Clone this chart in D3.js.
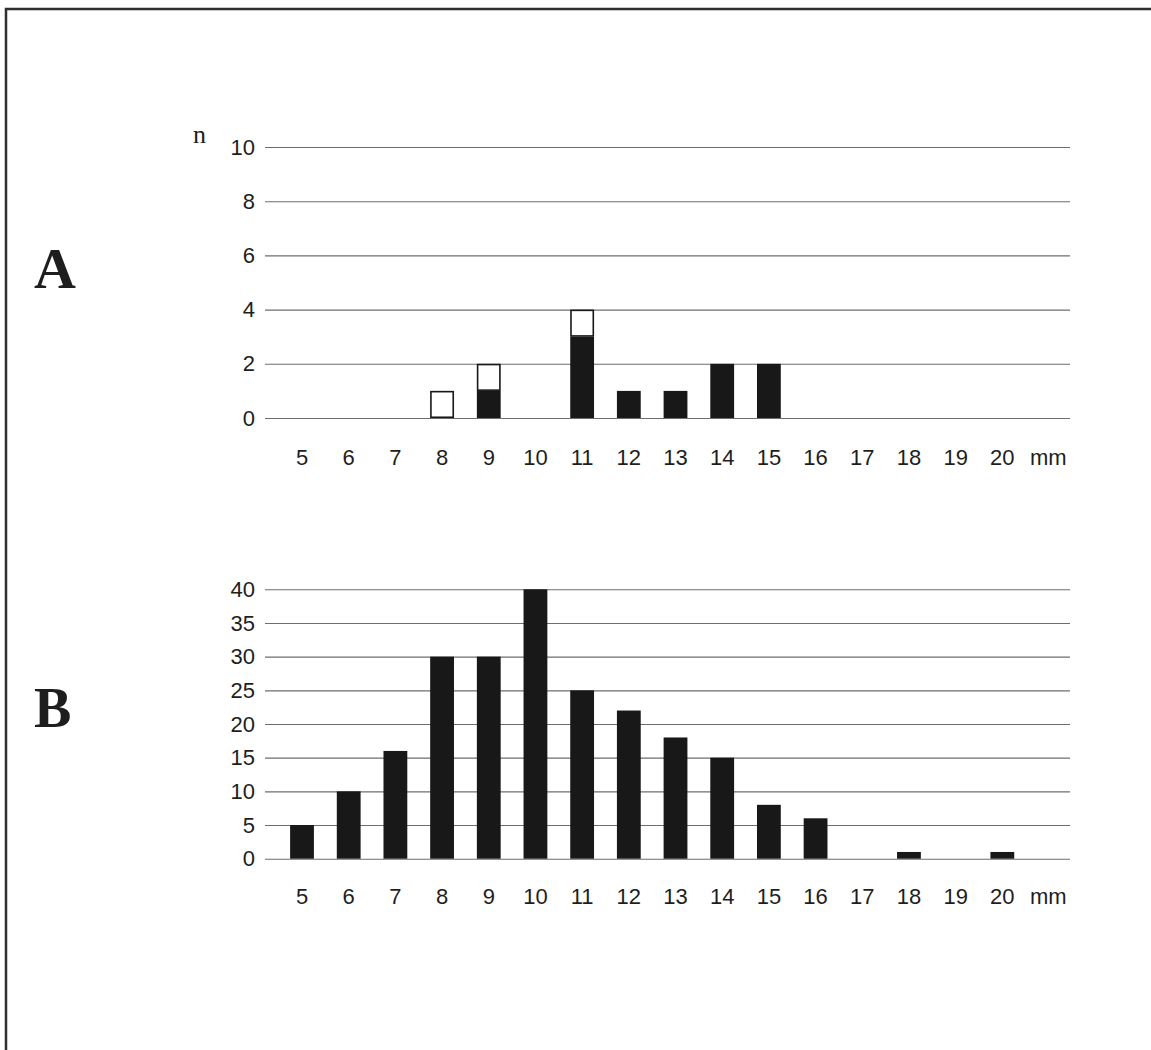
<!DOCTYPE html>
<html>
<head>
<meta charset="utf-8">
<script src="https://cdn.jsdelivr.net/npm/d3@7"></script>
<style>
  html, body { margin: 0; padding: 0; background: #ffffff; }
  svg { display: block; }
</style>
</head>
<body>
<svg id="chart" width="1151" height="1050"></svg>
<script>
// ---- data ----
const categories = ["5","6","7","8","9","10","11","12","13","14","15","16","17","18","19","20"];
const aFilled = [0,0,0,0,1,0,3,1,1,2,2,0,0,0,0,0];
const aOpen   = [0,0,0,1,1,0,1,0,0,0,0,0,0,0,0,0];
const bValues = [5,10,16,30,30,40,25,22,18,15,8,6,0,1,0,1];
const aTicks = [0,2,4,6,8,10];
const bTicks = [0,5,10,15,20,25,30,35,40];
const unitLabel = "mm";
const aYLabel = "n";
const panelLabels = ["A","B"];

// ---- layout ----
const svg = d3.select("#chart");
const gridLeft = 265, gridRight = 1070;
const sansFont = "'Liberation Sans', Arial, Helvetica, sans-serif";
const serifFont = "'Liberation Serif', 'Times New Roman', serif";
const barColor = "#181818";
const gridColor = "#6e6e6e";

// frame
svg.append("path")
  .attr("d", "M6,1050 V9 H1151")
  .attr("fill", "none").attr("stroke", "#2f2f2f").attr("stroke-width", 2.5);

const x = d3.scaleBand()
  .domain(categories)
  .range([278.67, 1025.67])
  .paddingInner(0.49)
  .paddingOuter(0.245);

function drawPanel(yScale, ticks, xLabelOffset) {
  const g = svg.append("g");
  // gridlines + y labels
  const yAxis = d3.axisLeft(yScale)
    .tickValues(ticks)
    .tickSize(-(gridRight - gridLeft))
    .tickPadding(10);
  const ya = g.append("g").attr("transform", `translate(${gridLeft},0)`).call(yAxis);
  ya.select(".domain").remove();
  ya.selectAll(".tick line").attr("stroke", gridColor).attr("stroke-width", 1.1);
  ya.selectAll(".tick text")
    .attr("font-family", sansFont).attr("font-size", 22).attr("fill", "#1e1e1e");

  // x labels
  const xAxis = d3.axisBottom(x).tickSize(0).tickPadding(xLabelOffset);
  const xa = g.append("g").attr("transform", `translate(0,${yScale(0)})`).call(xAxis);
  xa.select(".domain").remove();
  xa.selectAll(".tick text")
    .attr("font-family", sansFont).attr("font-size", 22).attr("fill", "#1e1e1e");
  // unit label
  const last = categories[categories.length - 1];
  g.append("text")
    .attr("x", x(last) + x.bandwidth() / 2 + 46)
    .attr("y", yScale(0) + xLabelOffset)
    .attr("dy", "0.71em")
    .attr("text-anchor", "middle")
    .attr("font-family", sansFont).attr("font-size", 22).attr("fill", "#1e1e1e")
    .text(unitLabel);
  return g;
}

// ---- Panel A ----
const yA = d3.scaleLinear().domain([0, 10]).range([418, 147]);
const gA = drawPanel(yA, aTicks, 31);
const aData = categories.map((c, i) => ({ c, filled: aFilled[i], open: aOpen[i] }));
gA.append("g").selectAll("rect.filled")
  .data(aData.filter(d => d.filled > 0))
  .join("rect")
  .attr("x", d => x(d.c))
  .attr("width", x.bandwidth())
  .attr("y", d => yA(d.filled))
  .attr("height", d => yA(0) - yA(d.filled))
  .attr("fill", barColor);
gA.append("g").selectAll("rect.open")
  .data(aData.filter(d => d.open > 0))
  .join("rect")
  .attr("x", d => x(d.c) + 0.75)
  .attr("width", x.bandwidth() - 1.5)
  .attr("y", d => yA(d.filled + d.open) + 0.75)
  .attr("height", d => yA(d.filled) - yA(d.filled + d.open) - 1.5)
  .attr("fill", "#ffffff")
  .attr("stroke", barColor).attr("stroke-width", 1.6);

gA.append("text")
  .attr("x", 193).attr("y", 143)
  .attr("font-family", serifFont).attr("font-size", 26).attr("fill", "#1e1e1e")
  .text(aYLabel);

svg.append("text")
  .attr("x", 34).attr("y", 288)
  .attr("font-family", serifFont).attr("font-weight", "bold").attr("font-size", 58)
  .attr("fill", "#1e1e1e")
  .text(panelLabels[0]);

// ---- Panel B ----
const yB = d3.scaleLinear().domain([0, 40]).range([858.7, 589.3]);
const gB = drawPanel(yB, bTicks, 30);
gB.append("g").selectAll("rect")
  .data(categories.map((c, i) => ({ c, v: bValues[i] })).filter(d => d.v > 0))
  .join("rect")
  .attr("x", d => x(d.c))
  .attr("width", x.bandwidth())
  .attr("y", d => yB(d.v))
  .attr("height", d => yB(0) - yB(d.v))
  .attr("fill", barColor);

svg.append("text")
  .attr("x", 34).attr("y", 727)
  .attr("font-family", serifFont).attr("font-weight", "bold").attr("font-size", 56)
  .attr("fill", "#1e1e1e")
  .text(panelLabels[1]);
</script>
</body>
</html>
